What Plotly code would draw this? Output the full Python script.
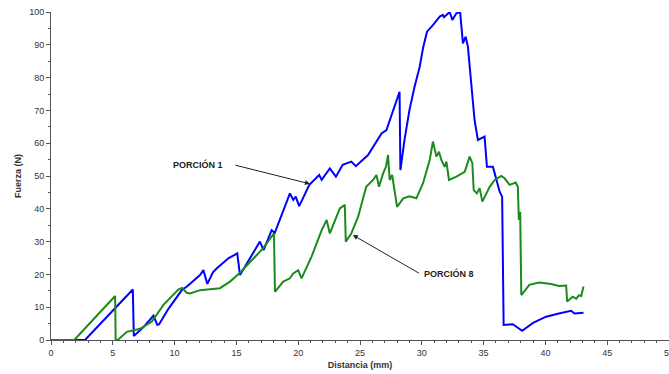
import plotly.graph_objects as go

# PORCIÓN 1 (blue)
p1_x = [0, 2.75, 6.62, 6.7, 7.5, 8.29, 8.6, 8.75, 9.5, 10.44, 10.6, 11.0, 12.06, 12.33, 12.65,
        13.1, 13.4, 14.35, 15.07, 15.29, 16.0, 16.9, 17.2, 17.85, 18.1, 18.5, 19.33, 19.6, 19.8,
        20.08, 20.9, 21.7, 21.9, 22.56, 23.05, 23.6, 24.3, 24.66, 25.65, 26.74, 27.14, 28.2,
        28.27, 28.6, 29.0, 29.4, 29.83, 30.1, 30.42, 30.9, 31.45, 31.7, 31.8, 32.25, 32.47, 32.8,
        33.1, 33.33, 33.55, 33.73, 34.09, 34.27, 34.54, 35.08, 35.27, 35.75, 35.9, 36.3, 36.5,
        36.62, 37.37, 38.12, 39.0, 40.06, 41.0, 42.08, 42.35, 43.08]
p1_y = [0, 0, 15.4, 1.2, 4.0, 7.4, 4.6, 4.8, 9.5, 14.7, 15.3, 16.3, 19.8, 21.3, 17.1,
        20.6, 21.8, 24.9, 26.4, 19.8, 24.5, 30.0, 27.4, 33.5, 32.6, 36.6, 44.7, 42.7, 43.7,
        40.8, 47.3, 50.3, 48.8, 52.3, 49.8, 53.4, 54.4, 53.0, 56.4, 63.0, 64.0, 75.7,
        51.8, 61.0, 70.1, 77.0, 83.3, 89.0, 94.0, 96.0, 98.6, 99.1, 98.4, 100.0, 97.6, 99.6,
        100.0, 90.4, 92.5, 89.4, 73.2, 67.0, 61.0, 62.0, 52.8, 52.8, 50.8, 45.2, 43.7,
        4.6, 4.8, 2.8, 5.2, 7.1, 8.0, 8.9, 8.1, 8.3]

# PORCIÓN 8 (green)
p8_x = [0, 1.88, 5.19, 5.23, 5.4, 6.14, 7.21, 8.16, 9.1, 10.3, 10.6, 10.98, 11.25, 12.06,
        13.67, 14.48, 15.29, 16.37, 17.17, 18.04, 18.12, 18.79, 19.33, 19.6, 20.0, 20.27,
        20.8, 21.08, 21.9, 22.3, 22.56, 23.37, 23.77, 23.85, 24.3, 24.85, 25.5, 26.06,
        26.33, 26.54, 26.87, 27.1, 27.27, 27.4, 27.6, 27.8, 28.0, 28.5, 29.0, 29.56, 30.1,
        30.64, 30.9, 31.18, 31.39, 31.58, 31.85, 31.99, 32.2, 32.8, 33.47, 33.87, 34.09,
        34.2, 34.45, 34.68, 34.9, 35.49, 35.9, 36.43, 36.7, 37.1, 37.6, 37.77, 37.85, 37.96,
        38.05, 38.7, 39.5, 40.47, 41.1, 41.68, 41.76, 42.2, 42.5, 42.7, 42.9, 43.08]
p8_y = [0, 0, 13.4, 0, 0, 2.5, 3.4, 5.6, 10.7, 15.4, 15.9, 14.4, 14.2, 15.2,
        15.8, 17.8, 20.5, 24.9, 28.0, 32.5, 14.7, 17.8, 18.8, 20.3, 21.3, 18.8,
        22.9, 25.4, 33.5, 36.6, 32.5, 40.1, 41.2, 30.0, 32.5, 37.6, 46.7, 48.8,
        50.3, 46.7, 50.8, 52.8, 56.4, 48.8, 50.3, 45.7, 40.6, 43.2, 43.8, 43.2, 47.8,
        54.9, 60.5, 55.9, 57.4, 54.9, 52.8, 54.4, 48.8, 49.8, 51.3, 55.9, 53.9,
        45.7, 44.7, 46.3, 42.2, 46.7, 48.8, 50.0, 49.3, 47.3, 48.0, 46.7, 36.6, 39.1,
        13.7, 16.8, 17.5, 17.1, 16.5, 16.6, 11.7, 13.2, 12.6, 13.6, 13.4, 16.3]

x_ticks = [0, 5, 10, 15, 20, 25, 30, 35, 40, 45, 50]
y_ticks = [0, 10, 20, 30, 40, 50, 60, 70, 80, 90, 100]

fig = go.Figure()
fig.add_trace(go.Scatter(x=p1_x, y=p1_y, mode="lines", line=dict(color="#0000ff", width=2),
                         name="PORCIÓN 1"))
fig.add_trace(go.Scatter(x=p8_x, y=p8_y, mode="lines", line=dict(color="#1e8a1e", width=2),
                         name="PORCIÓN 8"))

font = dict(family="Liberation Sans, Arial, sans-serif", size=9, color="#333333")
axcol = "#555555"

fig.update_layout(
    width=669, height=374,
    margin=dict(l=51, r=0, t=12, b=34, autoexpand=False),
    plot_bgcolor="white", paper_bgcolor="white",
    showlegend=False,
    font=font,
    xaxis=dict(range=[0, 50], tickvals=x_ticks, showgrid=False, zeroline=False,
               showline=True, linecolor=axcol, linewidth=1, ticks="outside",
               tickcolor=axcol, ticklen=4, tickfont=font, ticklabeloverflow="allow",
               automargin=False,
               minor=dict(dtick=1, ticks="outside", ticklen=2, tickcolor=axcol),
               title=dict(text="<b>Distancia (mm)</b>", font=dict(family=font["family"], size=9, color="#333333"), standoff=4)),
    yaxis=dict(range=[0, 100], tickvals=y_ticks, showgrid=False, zeroline=False,
               showline=True, linecolor=axcol, linewidth=1, ticks="outside",
               tickcolor=axcol, ticklen=4, tickfont=font, automargin=False,
               minor=dict(dtick=5, ticks="outside", ticklen=2, tickcolor=axcol),
               title=dict(text="<b>Fuerza (N)</b>", font=dict(family=font["family"], size=9, color="#333333"), standoff=6)),
)

ann_font = dict(family=font["family"], size=9, color="#222222")
fig.add_annotation(x=20.95, y=47.6, ax=14.8, ay=53.4, xref="x", yref="y", axref="x", ayref="y",
                   text="", showarrow=True, arrowhead=2, arrowsize=1, arrowwidth=1, arrowcolor="#222222")
fig.add_annotation(x=14.1, y=53.4, xref="x", yref="y", text="<b>PORCIÓN 1</b>", showarrow=False,
                   xanchor="right", font=ann_font)
fig.add_annotation(x=24.42, y=32.0, ax=29.9, ay=20.1, xref="x", yref="y", axref="x", ayref="y",
                   text="", showarrow=True, arrowhead=2, arrowsize=1, arrowwidth=1, arrowcolor="#222222")
fig.add_annotation(x=30.05, y=20.4, xref="x", yref="y", text="<b>PORCIÓN 8</b>", showarrow=False,
                   xanchor="left", font=ann_font)

fig.write_html("out.html")
